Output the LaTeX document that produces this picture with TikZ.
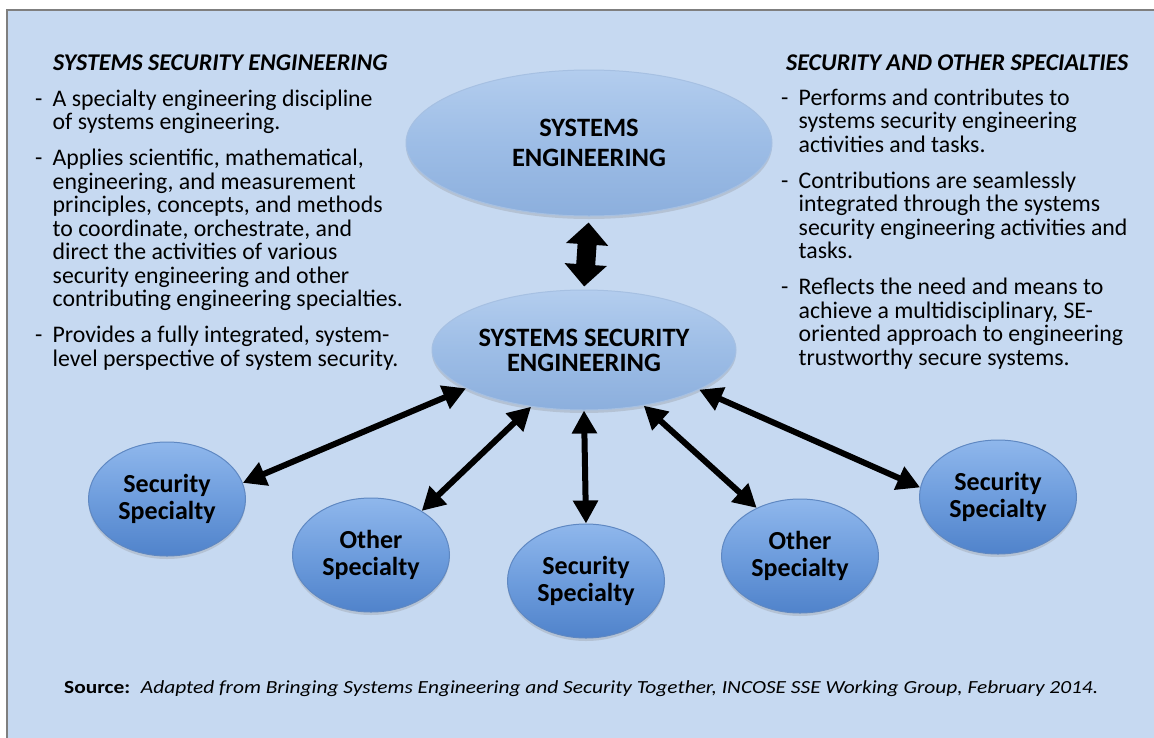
\documentclass[tikz,border=0pt]{standalone}
\usepackage{fontspec}
\usepackage{graphicx}
\setmainfont{Carlito}
\usetikzlibrary{shapes.geometric,arrows.meta,shadows}

\definecolor{bgblue}{HTML}{C6D9F1}
\definecolor{framegray}{HTML}{7F7F7F}
\definecolor{bigtop}{HTML}{B3CDEE}
\definecolor{bigmid}{HTML}{9DBDE6}
\definecolor{bigbot}{HTML}{8CAFDD}
\definecolor{bigrim}{HTML}{A6C0E2}
\definecolor{spectop}{HTML}{8FB7EC}
\definecolor{specmid}{HTML}{6E9DDD}
\definecolor{specbot}{HTML}{5083CB}
\definecolor{specrim}{HTML}{5F88C2}

% one dash item: the dash hangs, the other lines are indented
\newcommand{\dashitem}{\par\hangindent=17.5pt\hangafter=1\noindent\makebox[17.5pt][l]{-}}
\newcommand{\dashblock}[1]{\parbox[t]{400pt}{\setlength{\parskip}{12.5pt}#1}}

\tikzset{
  bigell/.style={ellipse, inner sep=0pt, draw=bigrim, line width=1pt,
    top color=bigtop, bottom color=bigbot, middle color=bigmid,
    drop shadow={opacity=0.25, shadow xshift=0pt, shadow yshift=-3pt},
    align=center, font=\bfseries\fontsize{26.5}{26}\selectfont},
  spec/.style={ellipse, inner sep=0pt, minimum width=157pt, minimum height=114pt,
    draw=specrim, line width=1pt,
    top color=spectop, bottom color=specbot, middle color=specmid,
    drop shadow={opacity=0.25, shadow xshift=0pt, shadow yshift=-3pt},
    align=center, font=\bfseries\fontsize{26}{27}\selectfont},
  heading/.style={anchor=base west, inner sep=0pt,
    font=\bfseries\itshape\fontsize{24}{24}\selectfont},
  bullets/.style={anchor=base west, inner sep=0pt,
    font=\fontsize{23.8}{23.5}\selectfont},
  link/.style={line width=6pt, {Triangle[length=23pt,width=24pt]}-{Triangle[length=23pt,width=24pt]}},
  bigarrow/.style={line width=19pt, {Triangle[length=22pt,width=41pt]}-{Triangle[length=22pt,width=41pt]},
    shorten <=6pt, shorten >=3pt}
}

\begin{document}
\begin{tikzpicture}[x=1pt, y=-1pt]
	\useasboundingbox (0,0) rectangle (1154,737);
	\fill[white] (0,0) rectangle (1154,737);
	\draw[framegray, line width=1.5pt, fill=bgblue] (7,10) rectangle (1170,750);

	% side texts
	\node[heading] (lhead) at (53,70) {SYSTEMS SECURITY ENGINEERING};
	\node[heading] (rhead) at (786,70) {SECURITY AND OTHER SPECIALTIES};

	\node[bullets] (lbul) at (35,106) {\dashblock{%
		\dashitem A specialty engineering discipline\\ of systems engineering.
		\dashitem Applies scientific, mathematical,\\ engineering, and measurement\\ principles, concepts, and methods\\ to coordinate, orchestrate, and\\ direct the activities of various\\ security engineering and other\\ contributing engineering specialties.
		\dashitem Provides a fully integrated, system-\\ level perspective of system security.}};

	\node[bullets] (rbul) at (781,105) {\dashblock{%
		\dashitem Performs and contributes to\\ systems security engineering\\ activities and tasks.
		\dashitem Contributions are seamlessly\\ integrated through the systems\\ security engineering activities and\\ tasks.
		\dashitem Reflects the need and means to\\ achieve a multidisciplinary, SE-\\ oriented approach to engineering\\ trustworthy secure systems.}};

	% ellipses
	\node[bigell, minimum width=366pt, minimum height=146pt, font=\bfseries\fontsize{26.5}{30}\selectfont] (se) at (589,143) {SYSTEMS\\ENGINEERING};
	\node[bigell, minimum width=304pt, minimum height=120pt, font=\bfseries\fontsize{26.5}{25}\selectfont] (sse) at (584,350) {SYSTEMS SECURITY\\ENGINEERING};

	\foreach \nm/\px/\py/\txt in {ls/167/499/Security, lo/371/555/Other, cs/586/581/Security, ro/800/556/Other, rs/998/497/Security}
		\node[spec] (\nm) at (\px,\py) {\txt\\Specialty};

	% arrows
	\draw[bigarrow] (se.south) -- (sse.north);
	\foreach \a/\b in {sse.198/ls.12, sse.227/lo.41, sse.south/cs.north, sse.317/ro.132, sse.341/rs.173}
		\draw[link] (\a) -- (\b);

	\node[anchor=base west, inner sep=0pt, font=\fontsize{18.5}{20}\selectfont] (src) at (64,693)
		{\resizebox{1034pt}{\height}{\textbf{Source:}\enspace\textit{Adapted from Bringing Systems Engineering and Security Together, INCOSE SSE Working Group, February 2014.}}};
\end{tikzpicture}
\end{document}
